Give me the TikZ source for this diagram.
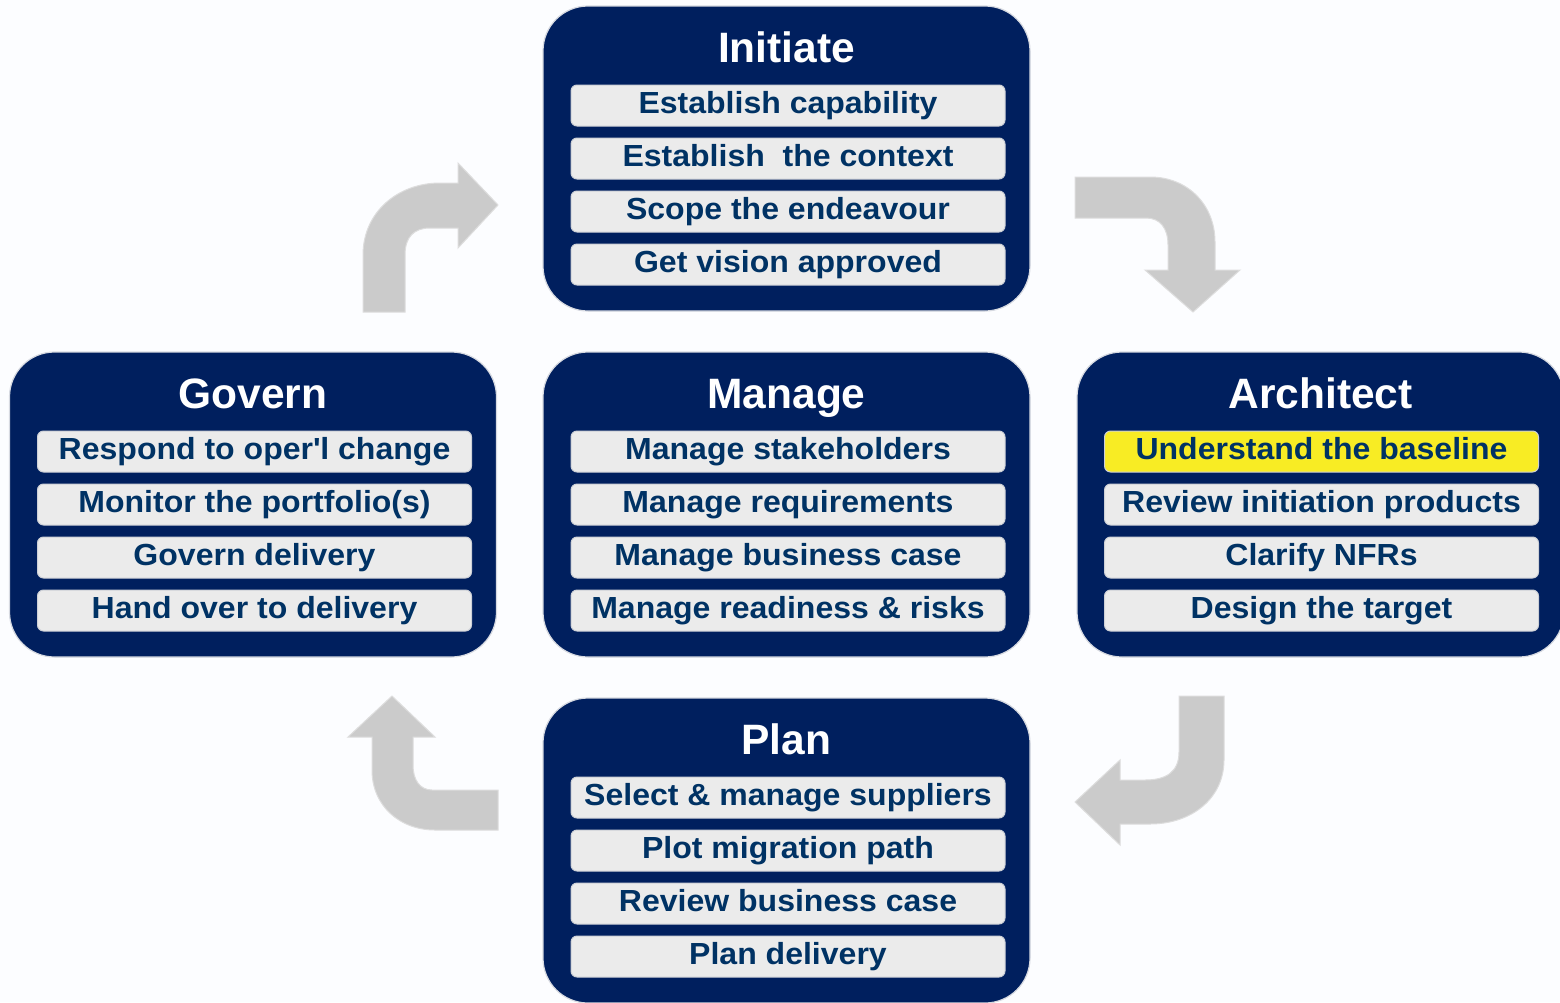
\documentclass[tikz,border=0pt]{standalone}
\usepackage{fontspec}
\setmainfont{Liberation Sans}
\newfontfamily\itemfamily[FakeStretch=1.05]{Liberation Sans}
\usetikzlibrary{calc}
\definecolor{navy}{RGB}{0,31,94}
\definecolor{boxedge}{RGB}{215,218,225}
\definecolor{itemgray}{RGB}{235,235,235}
\definecolor{itemedge}{RGB}{205,208,214}
\definecolor{itemblue}{RGB}{0,50,100}
\definecolor{hiyellow}{RGB}{248,236,36}
\definecolor{arrowgray}{RGB}{203,203,203}
\definecolor{arrowedge}{RGB}{221,221,221}
\definecolor{bgcol}{RGB}{252,253,255}
\newcommand\itemfnt{\itemfamily\fontsize{30.5}{36}\bfseries\selectfont}
\newcommand\titlefnt{\fontsize{42.5}{50}\bfseries\selectfont}
\begin{document}
\begin{tikzpicture}[x=1pt,y=-1pt,
  bigbox/.style={fill=navy, draw=boxedge, line width=1.2pt, rounded corners=45pt,
    minimum width=487pt, minimum height=305pt, inner sep=0pt},
  itembox/.style={fill=itemgray, draw=itemedge, line width=1pt, rounded corners=6pt,
    minimum width=434pt, minimum height=41pt, inner sep=0pt,
    text height=22pt, text depth=6pt, font=\itemfnt, text=itemblue},
  hibox/.style={itembox, fill=hiyellow},
  titlebox/.style={font=\titlefnt, text=white, inner sep=0pt, anchor=base},
  bentarrow/.style={fill=arrowgray, draw=arrowedge, line width=1pt}]
\useasboundingbox[fill=bgcol] (0,0) rectangle (1560,1002);
\begin{scope}
\clip (0,0) rectangle (1560,1002);
% stage boxes
\node[bigbox] (init) at (786.5,158.5) {};
\node[bigbox] (mng)  at (786.5,504.5) {};
\node[bigbox] (gov)  at (253,504.5) {};
\node[bigbox] (arch) at (1320.5,504.5) {};
\node[bigbox] (plan) at (786.5,850.5) {};
% titles
\node[titlebox] (init-t) at (786.5,62) {Initiate};
\node[titlebox] (mng-t)  at (786.5,408) {Manage};
\node[titlebox] (gov-t)  at (253,408) {Govern};
\node[titlebox] (arch-t) at (1320.5,408) {Architect};
\node[titlebox] (plan-t) at (786.5,754) {Plan};
% Initiate items
\node[itembox] (init-1) at (788,105.5) {Establish capability};
\node[itembox] (init-2) at (788,158.5) {Establish~ the context};
\node[itembox] (init-3) at (788,211.5) {Scope the endeavour};
\node[itembox] (init-4) at (788,264.5) {Get vision approved};
% Manage items
\node[itembox] (mng-1) at (788,451.5) {Manage stakeholders};
\node[itembox] (mng-2) at (788,504.5) {Manage requirements};
\node[itembox] (mng-3) at (788,557.5) {Manage business case};
\node[itembox] (mng-4) at (788,610.5) {Manage readiness \& risks};
% Govern items
\node[itembox] (gov-1) at (254.5,451.5) {Respond to oper\textquotesingle l change};
\node[itembox] (gov-2) at (254.5,504.5) {Monitor the portfolio(s)};
\node[itembox] (gov-3) at (254.5,557.5) {Govern delivery};
\node[itembox] (gov-4) at (254.5,610.5) {Hand over to delivery};
% Architect items
\node[hibox]   (arch-1) at (1321.5,451.5) {Understand the baseline};
\node[itembox] (arch-2) at (1321.5,504.5) {Review initiation products};
\node[itembox] (arch-3) at (1321.5,557.5) {Clarify NFRs};
\node[itembox] (arch-4) at (1321.5,610.5) {Design the target};
% Plan items
\node[itembox] (plan-1) at (788,797.5) {Select \& manage suppliers};
\node[itembox] (plan-2) at (788,850.5) {Plot migration path};
\node[itembox] (plan-3) at (788,903.5) {Review business case};
\node[itembox] (plan-4) at (788,956.5) {Plan delivery};
\end{scope}
% bent arrows
% Initiate -> Architect
\draw[bentarrow] (1075,177) -- (1150,177) .. controls (1188,177) and (1215,205) .. (1215,242)
  -- (1215,270) -- (1240,270) -- (1193,312) -- (1145,270) -- (1168,270) -- (1168,245)
  .. controls (1168,228) and (1160,218) .. (1146,218) -- (1075,218) -- cycle;
% Architect -> Plan
\draw[bentarrow] (1179,696) -- (1224,696) -- (1224,760) .. controls (1224,798) and (1192,824) .. (1150,824)
  -- (1120,824) -- (1120,845) -- (1075,802) -- (1120,760) -- (1120,780) -- (1145,780)
  .. controls (1166,780) and (1179,772) .. (1179,752) -- cycle;
% Plan -> Govern
\draw[bentarrow] (498,790) -- (432,790) .. controls (420,790) and (413,780) .. (413,765)
  -- (413,737) -- (435,737) -- (392,696) -- (348,737) -- (372,737) -- (372,770)
  .. controls (372,806) and (400,830) .. (435,830) -- (498,830) -- cycle;
% Govern -> Initiate
\draw[bentarrow] (363,312) -- (363,255) .. controls (363,212) and (398,183) .. (440,183)
  -- (458,183) -- (458,163) -- (498,205) -- (458,248) -- (458,228) -- (430,228)
  .. controls (414,228) and (405,237) .. (405,255) -- (405,312) -- cycle;
\end{tikzpicture}
\end{document}
